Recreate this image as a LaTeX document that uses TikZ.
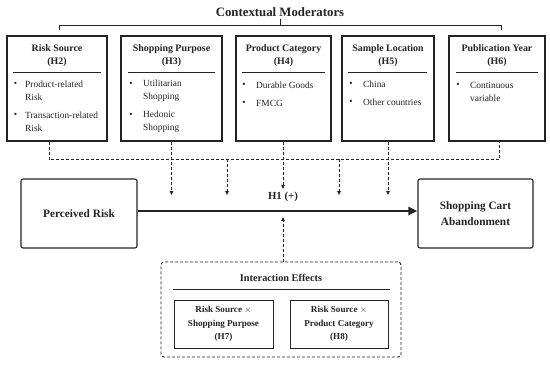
\documentclass[tikz,border=0pt]{standalone}
\usepackage{fontspec}
\setmainfont{Liberation Serif}
\usetikzlibrary{arrows.meta}
\definecolor{ink}{RGB}{35,35,35}
\tikzset{
  modbox/.style={draw=ink, line width=1.1pt, inner sep=0pt},
  boxttl/.style={align=center, font=\fontsize{9.9}{13}\bfseries\selectfont, text=ink, inner sep=0pt},
  bul/.style={font=\fontsize{9.4}{13}\selectfont, text=ink, inner sep=0pt},
  btxt/.style={align=left, anchor=west, font=\fontsize{9.4}{13}\selectfont, text=ink, inner sep=0pt},
  sepline/.style={draw=ink, line width=0.6pt},
  dline/.style={draw=ink, line width=0.8pt, dash pattern=on 3pt off 2pt},
  darr/.style={dline, -{Triangle[length=4pt,width=3.5pt]}},
  bigbox/.style={draw=ink, line width=1.1pt, rounded corners=2pt, inner sep=0pt, align=center, font=\fontsize{11.3}{16}\bfseries\selectfont, text=ink},
  mainarr/.style={draw=ink, line width=2.3pt, -{Triangle[length=9pt,width=8pt]}},
  inbox/.style={draw=ink, line width=1pt, inner sep=0pt, align=center, font=\fontsize{9.1}{13.5}\bfseries\selectfont, text=ink},
}
\begin{document}
\begin{tikzpicture}[x=1pt,y=-1pt]
\useasboundingbox (0,0) rectangle (550,365);

% title and bracket
\node[font=\fontsize{12.8}{15}\bfseries\selectfont, text=ink, inner sep=0pt] (title) at (280,12) {Contextual Moderators};
\draw[ink, line width=1pt] (59,30) -- (59,25) -- (501,25) -- (501,30);
\draw[ink, line width=1pt] (280,25) -- (280,19);

% moderator boxes
\node[modbox, minimum width=100pt, minimum height=105pt] (m1) at (57,88.5) {};
\node[modbox, minimum width=101pt, minimum height=105pt] (m2) at (171.5,88.5) {};
\node[modbox, minimum width=95pt, minimum height=105pt] (m3) at (283.5,88.5) {};
\node[modbox, minimum width=92pt, minimum height=105pt] (m4) at (388,88.5) {};
\node[modbox, minimum width=96pt, minimum height=105pt] (m5) at (497,88.5) {};

\node[boxttl] (t1) at (57,55.5) {Risk Source\\(H2)};
\node[boxttl] (t2) at (171.5,55.5) {Shopping Purpose\\(H3)};
\node[boxttl] (t3) at (283.5,55.5) {Product Category\\(H4)};
\node[boxttl] (t4) at (388,55.5) {Sample Location\\(H5)};
\node[boxttl] (t5) at (497,55.5) {Publication Year\\(H6)};

\draw[sepline] (13,72) -- (101,72);
\draw[sepline] (128,72) -- (215,72);
\draw[sepline] (242,72) -- (325,72);
\draw[sepline] (348,72) -- (427,72);
\draw[sepline] (456,72) -- (538,72);

% box 1 bullets
\node[bul] (b1a) at (15.5,84.5) {\textbullet};
\node[btxt] (x1a) at (25,90.5) {Product-related\\Risk};
\node[bul] (b1b) at (15.5,115.5) {\textbullet};
\node[btxt] (x1b) at (25,121.5) {Transaction-related\\Risk};
% box 2
\node[bul] (b2a) at (131,84.5) {\textbullet};
\node[btxt] (x2a) at (143,90.5) {Utilitarian\\Shopping};
\node[bul] (b2b) at (131,115.5) {\textbullet};
\node[btxt] (x2b) at (143,121.5) {Hedonic\\Shopping};
% box 3
\node[bul] (b3a) at (244,85) {\textbullet};
\node[btxt] (x3a) at (256,85) {Durable Goods};
\node[bul] (b3b) at (244,103) {\textbullet};
\node[btxt] (x3b) at (256,103) {FMCG};
% box 4
\node[bul] (b4a) at (351,84.5) {\textbullet};
\node[btxt] (x4a) at (363,84.5) {China};
\node[bul] (b4b) at (351,102.5) {\textbullet};
\node[btxt] (x4b) at (363,102.5) {Other countries};
% box 5
\node[bul] (b5a) at (458,85) {\textbullet};
\node[btxt] (x5a) at (470,91.5) {Continuous\\variable};

% main boxes
\node[bigbox, minimum width=116pt, minimum height=69pt] (pr) at (79,213.5) {Perceived Risk};
\node[bigbox, minimum width=115pt, minimum height=69pt] (sca) at (475.5,213.5) {Shopping Cart\\Abandonment};
\coordinate (ml) at (0,211);
\draw[mainarr] (pr.east |- ml) -- (sca.west |- ml);
\node[font=\fontsize{10.8}{12}\bfseries\selectfont, text=ink, inner sep=0pt] (h1) at (283,197) {H1 (+)};

% dashed moderator connectors
\coordinate (tipy) at (0,195);
\coordinate (j1) at (227,159);
\coordinate (j2) at (339,159);
\draw[dline] ([xshift=-8pt]m1.south) -- ++(0,18) -| ([xshift=2pt]m5.south);
\draw[darr] (m2.south) -- (m2.south |- tipy);
\draw[darr] (j1) -- (j1 |- tipy);
\draw[darr] ([xshift=-0.5pt]m3.south) -- ([yshift=3pt]h1.north -| 283,0);
\draw[darr] (j2) -- (j2 |- tipy);
\draw[darr] (m4.south) -- (m4.south |- tipy);

% interaction effects
\node[draw=ink, line width=0.9pt, dash pattern=on 3pt off 2pt, rounded corners=3pt, minimum width=240pt, minimum height=95pt, inner sep=0pt] (ie) at (281,309.5) {};
\node[boxttl, font=\fontsize{10.3}{13}\bfseries\selectfont] (iet) at (281,278) {Interaction Effects};
\draw[sepline] (173,289.5) -- (390,289.5);
\node[inbox, minimum width=99pt, minimum height=48pt] (h7) at (223.5,324) {Risk Source $\times$\\Shopping Purpose\\(H7)};
\node[inbox, minimum width=98pt, minimum height=48pt] (h8) at (339,324) {Risk Source $\times$\\Product Category\\(H8)};
\coordinate (up) at (283,217);
\draw[darr] (ie.north -| up) -- (up);
\end{tikzpicture}
\end{document}
